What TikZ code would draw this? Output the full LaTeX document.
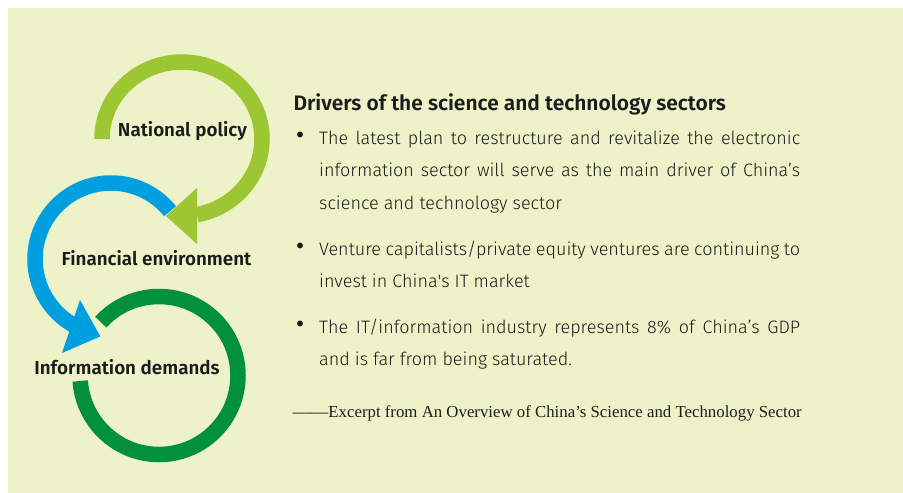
\documentclass[tikz,border=0pt]{standalone}
\usepackage{fontspec}
\newfontfamily\lightf{Fira Sans Light}
\newfontfamily\medf{Fira Sans SemiBold}
\newfontfamily\serf{Liberation Serif}
\definecolor{bgc}{HTML}{EEF2C8}
\definecolor{limegr}{HTML}{9CC733}
\definecolor{skybl}{HTML}{009FE0}
\definecolor{leafgr}{HTML}{00913A}
\definecolor{ink}{HTML}{1C1C1C}
\begin{document}
\begin{tikzpicture}[x=1pt,y=1pt,
  band/.style={line width=15.5pt, line cap=butt},
  lbl/.style={anchor=base, font=\medf\fontsize{18.8}{20}\selectfont, text=ink, inner sep=0pt},
  ttl/.style={anchor=base west, font=\medf\fontsize{20.95}{22}\selectfont, text=ink, inner sep=0pt},
  bodyln/.style={anchor=base west, font=\lightf\fontsize{18}{20}\selectfont, text=ink, inner sep=0pt},
  bulletdot/.style={anchor=center, inner sep=0pt, text=ink, font=\medf\fontsize{22}{24}\selectfont},
  srcln/.style={anchor=base west, font=\serf\fontsize{16.8}{18}\selectfont, text=ink, inner sep=0pt}]
\path[use as bounding box, fill=white] (0,0) rectangle (903,-493);
\fill[bgc] (8,-8) rectangle (903,-493);

% dark green ring
\draw[band, leafgr] (100.76,-322.13) arc[start angle=137.5, end angle=-176, radius=79];
% blue arrow
\draw[band, skybl] (170.06,-211.17) arc[start angle=39, end angle=241, radius=76];
\fill[skybl] (80,-300) -- (62,-353) -- (100.3,-336.4) -- cycle;
% lime arrow
\draw[band, limegr] (102,-139) arc[start angle=180, end angle=-79.2, x radius=80, y radius=77];
\fill[limegr] (197,-188) -- (197,-244) -- (166,-216) -- cycle;

% labels
\node[lbl] (np) at (182.5,-136.7) {National policy};
\node[lbl] (fe) at (156.5,-265) {Financial environment};
\node[lbl] (idm) at (127,-374) {Information demands};

% title
\node[ttl] (title) at (293.3,-110.7) {Drivers of the science and technology sectors};

% bullet 1
\node[bulletdot] (d1) at (300,-137) {•};
\node[bodyln] (b1a) at (319,-144.3) {\makebox[481pt][s]{The latest plan to restructure and revitalize the electronic}};
\node[bodyln] (b1b) at (319,-176.7) {\makebox[481pt][s]{information sector will serve as the main driver of China’s}};
\node[bodyln] (b1c) at (319,-209) {science and technology sector};
% bullet 2
\node[bulletdot] (d2) at (300,-248.5) {•};
\node[bodyln] (b2a) at (319,-255.7) {\makebox[481pt][s]{Venture capitalists/private equity ventures are continuing to}};
\node[bodyln] (b2b) at (319,-287.3) {invest in China\textquotesingle s IT market};
% bullet 3
\node[bulletdot] (d3) at (300,-326.5) {•};
\node[bodyln] (b3a) at (319,-333.7) {\makebox[481pt][s]{The IT/information industry represents 8\% of China’s GDP}};
\node[bodyln] (b3b) at (319,-365.6) {and is far from being saturated.};

% source line
\node[srcln] (src) at (292.3,-417.7) {\scalebox{1.07}[1]{——}Excerpt from An Overview of China’s Science and Technology Sector};
\end{tikzpicture}
\end{document}
